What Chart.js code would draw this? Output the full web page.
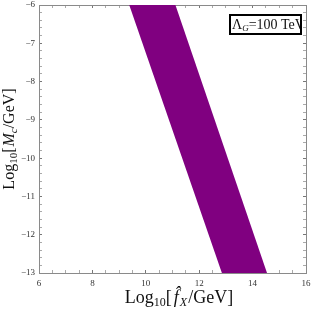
<!DOCTYPE html>
<html><head><meta charset="utf-8">
<script src="https://cdn.jsdelivr.net/npm/chart.js@4"></script>
<style>html,body{margin:0;padding:0;background:#fff;overflow:hidden}</style>
</head><body>
<canvas id="c" width="312" height="310"></canvas>
<script>
// ---- data ----
const logMc   = [-6, -13];          // Log10[Mc/GeV] (band end rows)
const fxLower = [9.38, 12.85];      // left boundary of the band, Log10[f_X/GeV]
const fxUpper = [11.11, 14.54];     // right boundary of the band
const xRange = [6, 16];
const yRange = [-13, -6];
const xMajorStep = 2, xMinorStep = 0.5;
const yMajorStep = 1, yMinorStep = 0.2;
const legendLabel = ['Λ', 'G', '=100 TeV'];

const SERIF = '"Liberation Serif", "DejaVu Serif", serif';
const bandColor = '#800080';
const frameColor = '#8a8a8a';

const isMult = (v, s) => Math.abs(v / s - Math.round(v / s)) < 1e-6;

function richWidth(ctx, parts) {
  let w = 0;
  for (const p of parts) { ctx.font = (p.it ? 'italic ' : '') + p.size + 'px ' + SERIF; w += ctx.measureText(p.t).width + (p.gap || 0); }
  return w;
}
function drawRich(ctx, parts, x, y) {
  let cx = x;
  for (const p of parts) {
    ctx.font = (p.it ? 'italic ' : '') + p.size + 'px ' + SERIF;
    ctx.fillText(p.t, cx, y + (p.dy || 0));
    cx += ctx.measureText(p.t).width + (p.gap || 0);
  }
}

const textPlugin = {
  id: 'richText',
  afterDraw(chart) {
    const ctx = chart.ctx;
    ctx.save();
    ctx.fillStyle = '#111';
    ctx.textBaseline = 'alphabetic';
    ctx.textAlign = 'left';
    // x-axis title
    const xt = [
      {t: 'Log', size: 18}, {t: '10', size: 12, dy: 3}, {t: '[', size: 18, gap: 2},
      {t: 'f\u0302', size: 18, it: true, gap: 1}, {t: 'X', size: 12, it: true, dy: 3, gap: 1}, {t: '/GeV]', size: 18}
    ];
    const xw = richWidth(ctx, xt);
    drawRich(ctx, xt, 179 - xw / 2, 303);
    // y-axis title
    const yt = [
      {t: 'Log', size: 16}, {t: '10', size: 11, dy: 3}, {t: '[', size: 16, gap: 1},
      {t: 'M', size: 16, it: true}, {t: 'c', size: 11, it: true, dy: 3}, {t: '/GeV]', size: 16}
    ];
    const yw = richWidth(ctx, yt);
    ctx.save();
    ctx.translate(14, 139);
    ctx.rotate(-Math.PI / 2);
    drawRich(ctx, yt, -yw / 2, 0);
    ctx.restore();
    // legend box
    ctx.fillStyle = '#fff';
    ctx.fillRect(230, 15, 71, 19);
    ctx.strokeStyle = '#000';
    ctx.lineWidth = 2;
    ctx.strokeRect(230, 15, 71, 19);
    ctx.fillStyle = '#111';
    ctx.beginPath(); ctx.rect(231, 16, 69, 17); ctx.clip();
    drawRich(ctx, [
      {t: legendLabel[0], size: 14}, {t: legendLabel[1], size: 9, it: true, dy: 2},
      {t: legendLabel[2], size: 14}
    ], 232, 29);
    ctx.restore();
  }
};

function gridCfg(majorStep) {
  return {
    drawOnChartArea: false, drawTicks: true, tickLength: -3,
    color: c => isMult(c.tick.value, majorStep) ? '#777' : '#aaa',
    tickColor: c => isMult(c.tick.value, majorStep) ? '#777' : '#aaa',
    lineWidth: 1
  };
}
const tickFont = {family: SERIF, size: 9};
const fixSize = (prop, val) => s => { s[prop] = val; s.paddingLeft = 0; s.paddingRight = 0; s.paddingTop = 0; s.paddingBottom = 0; };

new Chart(document.getElementById('c'), {
  type: 'line',
  data: {
    datasets: [
      { label: 'lower', data: logMc.map((y, i) => ({x: fxLower[i], y})), xAxisID: 'x', yAxisID: 'y',
        fill: '+1', backgroundColor: bandColor, borderColor: bandColor, borderWidth: 0, pointRadius: 0 },
      { label: 'upper', data: logMc.map((y, i) => ({x: fxUpper[i], y})), xAxisID: 'x', yAxisID: 'y',
        fill: false, backgroundColor: bandColor, borderColor: bandColor, borderWidth: 0, pointRadius: 0 }
    ]
  },
  options: {
    indexAxis: 'y',
    responsive: false, animation: false, devicePixelRatio: 1,
    layout: {padding: 0},
    plugins: {legend: {display: false}, tooltip: {enabled: false}, title: {display: false}},
    scales: {
      x: { type: 'linear', position: 'bottom', min: xRange[0], max: xRange[1],
        afterFit: fixSize('height', 37),
        border: {display: true, color: frameColor, width: 1},
        grid: gridCfg(xMajorStep),
        ticks: { stepSize: xMinorStep, autoSkip: false, maxRotation: 0, padding: 8, color: '#333', font: tickFont,
          callback: v => isMult(v, xMajorStep) ? String(Math.round(v)) : '' } },
      y: { type: 'linear', position: 'left', min: yRange[0], max: yRange[1],
        afterFit: fixSize('width', 39),
        border: {display: true, color: frameColor, width: 1},
        grid: gridCfg(yMajorStep),
        ticks: { stepSize: yMinorStep, autoSkip: false, padding: 7, color: '#333', font: tickFont,
          callback: v => isMult(v, yMajorStep) ? '\u2212' + Math.abs(Math.round(v)) : '' } },
      x2: { type: 'linear', axis: 'x', position: 'top', min: xRange[0], max: xRange[1],
        afterFit: fixSize('height', 5),
        border: {display: true, color: frameColor, width: 1},
        grid: gridCfg(xMajorStep),
        ticks: { stepSize: xMinorStep, autoSkip: false, maxRotation: 0, callback: () => '' } },
      y2: { type: 'linear', axis: 'y', position: 'right', min: yRange[0], max: yRange[1],
        afterFit: fixSize('width', 6),
        border: {display: true, color: frameColor, width: 1},
        grid: gridCfg(yMajorStep),
        ticks: { stepSize: yMinorStep, autoSkip: false, callback: () => '' } }
    }
  },
  plugins: [textPlugin]
});
</script>
</body></html>
